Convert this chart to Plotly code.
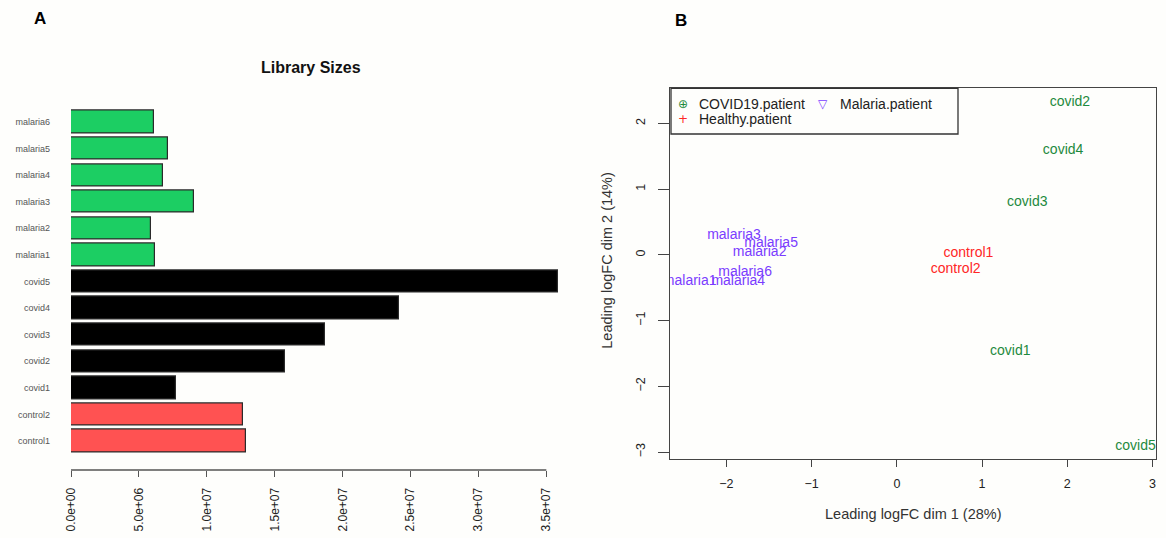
import plotly.graph_objects as go

W, H = 1166, 538

# ---------------- data ----------------
samples = ["control1", "control2", "covid1", "covid2", "covid3", "covid4", "covid5",
           "malaria1", "malaria2", "malaria3", "malaria4", "malaria5", "malaria6"]
groups = ["Healthy", "Healthy", "COVID19", "COVID19", "COVID19", "COVID19", "COVID19",
          "Malaria", "Malaria", "Malaria", "Malaria", "Malaria", "Malaria"]
lib_sizes = [12.89e6, 12.69e6, 7.71e6, 15.76e6, 18.70e6, 24.17e6, 35.84e6,
             6.21e6, 5.87e6, 9.08e6, 6.77e6, 7.17e6, 6.11e6]
x_tickvals = [0, 5e6, 1e7, 1.5e7, 2e7, 2.5e7, 3e7, 3.5e7]
x_ticktext = ["0.0e+00", "5.0e+06", "1.0e+07", "1.5e+07", "2.0e+07", "2.5e+07", "3.0e+07", "3.5e+07"]

mds_dim1 = [0.84, 0.69, 1.33, 2.03, 1.53, 1.95, 2.80, -2.43, -1.61, -1.91, -1.86, -1.475, -1.78]
mds_dim2 = [0.015, -0.22, -1.47, 2.32, 0.80, 1.59, -2.92, -0.41, 0.04, 0.30, -0.41, 0.17, -0.27]
mds_ticks = [-3, -2, -1, 0, 1, 2, 3]

bar_colors = {"Healthy": "#FF5252", "COVID19": "#000000", "Malaria": "#1CCE63"}
text_colors = {"Healthy": "#FF2626", "COVID19": "#1E8A3E", "Malaria": "#7A3CFF"}
legend_items = [("COVID19", "COVID19.patient", "⊕"), ("Malaria", "Malaria.patient", "▽"),
                ("Healthy", "Healthy.patient", "+")]

FONT = "Liberation Sans, Arial, sans-serif"

def px_x(p):
    return p / W

def px_y(p):
    return 1 - p / H

fig = go.Figure()

# ---------------- panel A: barplot ----------------
ypos = list(range(len(samples)))
fig.add_trace(go.Bar(
    x=lib_sizes, y=ypos, orientation="h", width=0.84,
    marker=dict(color=[bar_colors[g] for g in groups], line=dict(color="#2a2a2a", width=1.2)),
    xaxis="x", yaxis="y", showlegend=False, hoverinfo="x+text", text=samples,
    textposition="none",
))

# ---------------- panel B: MDS ----------------
for grp in ["COVID19", "Malaria", "Healthy"]:
    idx = [i for i, g in enumerate(groups) if g == grp]
    fig.add_trace(go.Scatter(
        x=[mds_dim1[i] for i in idx], y=[mds_dim2[i] for i in idx],
        text=[samples[i] for i in idx], mode="text",
        textfont=dict(family=FONT, size=14, color=text_colors[grp]),
        textposition="middle center", cliponaxis=True,
        xaxis="x2", yaxis="y2", showlegend=False, name=grp,
    ))

axis_font = dict(family=FONT, size=12.5, color="#222")

fig.update_layout(
    width=W, height=H, margin=dict(l=0, r=0, t=0, b=0, autoexpand=False),
    paper_bgcolor="#fefefc", plot_bgcolor="#fefefc",
    showlegend=False, bargap=0,
    xaxis=dict(domain=[px_x(71), px_x(559.9)], range=[0, 3.6e7], anchor="y",
               automargin=False,
               showgrid=False, zeroline=False, showline=False,
               tickmode="array", tickvals=x_tickvals, ticktext=x_ticktext,
               ticks="outside", ticklen=6, tickcolor="#555", tickwidth=1.3,
               tickangle=-90, tickfont=dict(family=FONT, size=12, color="#222"),
               ticklabelstandoff=6),
    yaxis=dict(domain=[px_y(470), px_y(106.5)], range=[-1.091, 12.583], anchor="x",
               automargin=False,
               showgrid=False, zeroline=False, showline=False,
               tickmode="array", tickvals=ypos, ticktext=samples, ticks="",
               tickfont=dict(family=FONT, size=9, color="#555"),
               ticklabelstandoff=20),
    xaxis2=dict(domain=[px_x(670), px_x(1156)], range=[-2.661, 3.040], anchor="y2",
                automargin=False,
                showgrid=False, zeroline=False, showline=True, mirror=True,
                linecolor="#444", linewidth=1.3,
                tickmode="array", tickvals=mds_ticks, ticks="outside", ticklen=7,
                tickcolor="#444", tickwidth=1.3, tickfont=axis_font,
                ticklabelstandoff=6),
    yaxis2=dict(domain=[px_y(459), px_y(88)], range=[-3.105, 2.537], anchor="x2",
                automargin=False,
                showgrid=False, zeroline=False, showline=True, mirror=True,
                linecolor="#444", linewidth=1.3,
                tickmode="array", tickvals=mds_ticks, ticks="outside", ticklen=11,
                tickcolor="#444", tickwidth=1.3, tickfont=axis_font, tickangle=-90,
                ticklabelstandoff=8),
)

# x axis line of barplot (only up to last tick, as in R)
fig.add_shape(type="line", xref="x", yref="paper", x0=0, x1=x_tickvals[-1],
              y0=px_y(470), y1=px_y(470), line=dict(color="#555", width=1.3))

# legend box
fig.add_shape(type="rect", xref="paper", yref="paper",
              x0=px_x(671), x1=px_x(958), y0=px_y(134), y1=px_y(88.3),
              line=dict(color="#333", width=1.3), fillcolor="#fefefc")

annotations = [
    dict(text="<b>A</b>", x=px_x(40), y=px_y(18), font=dict(family="Liberation Sans Narrow, " + FONT, size=17, color="#000")),
    dict(text="<b>B</b>", x=px_x(681), y=px_y(20), font=dict(family="Liberation Sans Narrow, " + FONT, size=17, color="#000")),
    dict(text="<b>Library Sizes</b>", x=px_x(311), y=px_y(68), font=dict(family=FONT, size=16, color="#111")),
    dict(text="Leading logFC dim 1 (28%)", x=px_x(913), y=px_y(514), font=dict(family=FONT, size=14.5, color="#333")),
    dict(text="Leading logFC dim 2 (14%)", x=px_x(606.7), y=px_y(260), textangle=-90,
         font=dict(family=FONT, size=14.5, color="#333")),
]
# legend entries
leg_pos = [(682.7, 696.7, 104.3), (823.3, 838.3, 104.3), (682.7, 696.7, 119.3)]
for (grp, label, sym), (sx, tx, ty) in zip(legend_items, leg_pos):
    annotations.append(dict(text=sym, x=px_x(sx), y=px_y(ty),
                            font=dict(family="DejaVu Sans, " + FONT, size=12, color=text_colors[grp])))
    annotations.append(dict(text=label, x=px_x(tx), y=px_y(ty), xanchor="left",
                            font=dict(family=FONT, size=14, color="#222")))

for a in annotations:
    a.setdefault("xanchor", "center")
    a.update(xref="paper", yref="paper", yanchor="middle", showarrow=False)
fig.update_layout(annotations=annotations)

fig.write_html("out.html", config={"displayModeBar": False},
               post_script="document.body.style.margin='0';document.body.style.overflow='hidden';")
